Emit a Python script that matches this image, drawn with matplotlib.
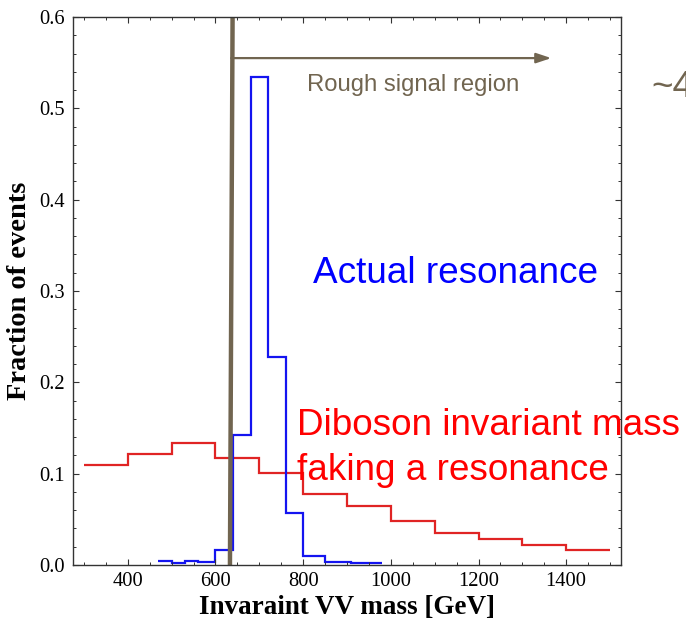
import matplotlib
matplotlib.use("Agg")
import matplotlib.pyplot as plt
from matplotlib.ticker import MultipleLocator

# Data
bkg_edges = [300, 400, 500, 600, 700, 800, 900, 1000, 1100, 1200, 1300, 1400, 1500]
bkg_values = [0.109, 0.122, 0.134, 0.1175, 0.101, 0.0775, 0.0645, 0.0485, 0.0345, 0.028, 0.0215, 0.0165]

sig_edges = [470, 500, 530, 560, 600, 640, 680, 720, 760, 800, 850, 910, 980]
sig_values = [0.0042, 0.0025, 0.0046, 0.003, 0.0164, 0.1427, 0.534, 0.2274, 0.0568, 0.0095, 0.0034, 0.0019]

cut_line_x = [633, 639]
cut_line_y = [0.0, 0.6]
arrow_start = (636, 0.555)
arrow_end = (1366, 0.555)

xlabel = "Invaraint VV mass [GeV]"
ylabel = "Fraction of events"

brown = "#716550"

fig = plt.figure(figsize=(6.86, 6.24), dpi=100)
ax = fig.add_axes([73/686, 1 - 565/624, (621-73)/686, (565-17)/624])

ax.stairs(bkg_values, bkg_edges, baseline=None, color="#e02424", lw=1.6)
ax.stairs(sig_values, sig_edges, baseline=None, color="#1414f0", lw=1.6)

ax.plot(cut_line_x, cut_line_y, color=brown, lw=3.2, solid_capstyle="butt", clip_on=False)
ax.annotate("", xy=arrow_end, xytext=arrow_start,
            arrowprops=dict(arrowstyle="-|>,head_length=0.9,head_width=0.3",
                            color=brown, lw=1.6, shrinkA=0, shrinkB=0))

ax.set_xlim(275, 1525)
ax.set_ylim(0, 0.6)

ax.xaxis.set_major_locator(MultipleLocator(200))
ax.xaxis.set_minor_locator(MultipleLocator(50))
ax.yaxis.set_major_locator(MultipleLocator(0.1))
ax.yaxis.set_minor_locator(MultipleLocator(0.02))
ax.yaxis.set_major_formatter(matplotlib.ticker.FormatStrFormatter("%.1f"))

serif = ["Liberation Serif", "DejaVu Serif"]
for lab in ax.get_xticklabels() + ax.get_yticklabels():
    lab.set_fontfamily(serif)
    lab.set_fontsize(14.8)

ax.tick_params(which="both", direction="in", top=True, right=True, color="#333333")
ax.tick_params(which="major", length=4.5, width=0.8)
ax.tick_params(which="minor", length=2.5, width=0.7)
ax.tick_params(axis="x", which="major", pad=5)
ax.tick_params(axis="y", which="major", pad=6)
for s in ax.spines.values():
    s.set_color("#333333")
    s.set_linewidth(1.0)

ax.set_xlabel(xlabel, fontfamily=serif, fontweight="bold", fontsize=19.5, labelpad=3)
ax.set_ylabel(ylabel, fontfamily=serif, fontweight="bold", fontsize=20.5, labelpad=5)

sans = ["Liberation Sans", "DejaVu Sans"]
def ftxt(x, y, s, **kw):
    fig.text(x/686, 1 - y/624, s, family=sans, va="baseline", ha="left", **kw)

ftxt(307, 91, "Rough signal region", color=brown, fontsize=17.2)
ftxt(651, 97, "~4", color=brown, fontsize=26.6)
ftxt(313, 283, "Actual resonance", color="#0000ff", fontsize=26.6)
ftxt(297, 435, "Diboson invariant mass", color="#ff0000", fontsize=26.6)
ftxt(297, 480, "faking a resonance", color="#ff0000", fontsize=26.6)

fig.savefig("out.png", dpi=100)
